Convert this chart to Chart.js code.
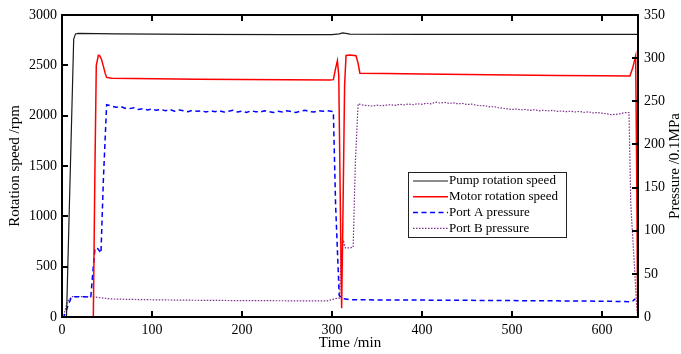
<!DOCTYPE html>
<html><head><meta charset="utf-8">
<script src="https://cdn.jsdelivr.net/npm/chart.js@4/dist/chart.umd.min.js"></script>
<style>html,body{margin:0;padding:0;background:#fff}#wrap{width:681px;height:354px}</style>
</head><body><div id="wrap"><canvas id="c" width="681" height="354"></canvas></div>
<script>
const FONT = '"Liberation Serif", "Times New Roman", serif';

const xTicks = [0, 100, 200, 300, 400, 500, 600];
const speedTicks = [0, 500, 1000, 1500, 2000, 2500, 3000];
const pressureTicks = [0, 50, 100, 150, 200, 250, 300, 350];

const seriesNames = ['Pump rotation speed', 'Motor rotation speed', 'Port A pressure', 'Port B pressure'];

const pumpTime  = [0, 5, 13, 15, 18, 60, 150, 250, 300, 308, 312, 320, 400, 500, 600, 640];
const pumpSpeed = [0, 0, 2760, 2812, 2818, 2812, 2808, 2806, 2805, 2812, 2822, 2810, 2808, 2808, 2808, 2808];

const motorTime  = [0, 34.8, 36.5, 38.1, 40.4, 42, 44, 46, 48, 49.6, 55, 80, 150, 200, 250, 298, 301.5, 304, 306, 307.5, 309, 310.7, 312, 314, 315.6, 320, 326.7, 329, 331, 360, 400, 450, 500, 550, 600, 631, 634, 637.4, 638.5, 639.6];
const motorSpeed = [0, 0, 1400, 2500, 2600, 2595, 2555, 2490, 2420, 2380, 2372, 2368, 2362, 2360, 2357, 2354, 2358, 2470, 2546, 2400, 1300, 86, 900, 2300, 2598, 2602, 2595, 2520, 2422, 2418, 2415, 2410, 2405, 2400, 2396, 2395, 2470, 2593, 1500, 40];

const portATime = [0, 2, 10, 14, 25, 32, 34.5, 36.7, 40, 42, 43.3, 46, 49.6,
  55, 60, 65, 70, 75, 80, 85, 90, 95, 100, 105, 110, 115, 120, 125, 130, 135, 140, 145, 150,
  155, 160, 165, 170, 175, 180, 185, 190, 195, 200, 205, 210, 215, 220, 225, 230, 235, 240,
  245, 250, 255, 260, 265, 270, 275, 280, 285, 290, 295, 301.5,
  304, 308, 311, 320, 350, 400, 450, 500, 550, 600, 630, 634, 637];
const portAPressure = [0, 0, 22, 23.5, 23.5, 23, 55, 80, 79, 76, 74, 160, 246,
  244.5, 243, 244, 242, 241.5, 242.5, 240.5, 241.5, 240, 241, 239.5, 240.5, 239, 240.5, 238.5, 240, 239, 238, 239.5, 238.5,
  239, 237.5, 239, 238, 239, 237.5, 238.5, 239.5, 237.5, 238.5, 237, 239, 238, 237.5, 239, 238, 237, 238.5,
  237.5, 239, 238, 237, 238.5, 239.5, 238, 237.5, 239, 238.5, 239, 238,
  130, 25, 21.5, 20, 19.8, 19.6, 19.3, 19, 18.7, 18.3, 17.8, 18.5, 21];

const portBTime = [0, 1.5, 6, 10.7, 20, 35, 53, 80, 109, 150, 200, 250, 294, 305, 308.5, 310, 313, 315, 320, 323.5, 326, 329,
  335, 340, 345, 350, 355, 360, 365, 370, 375, 380, 385, 390, 395, 400, 405, 410, 415, 420, 425, 430,
  435, 440, 445, 450, 455, 460, 465, 470, 475, 480, 485, 490, 495, 500, 505, 510, 515, 520, 525, 530,
  535, 540, 545, 550, 555, 560, 565, 570, 575, 580, 585, 590, 595, 600, 605, 610, 615, 620, 625,
  630, 632, 636, 638.5, 640];
const portBPressure = [0, 0, 18, 23.5, 23.8, 23.3, 21, 20.3, 19.8, 19.4, 19, 18.8, 18.6, 21.5, 22, 75, 87, 80, 80, 81, 180, 247,
  245.5, 245, 244.5, 245.5, 244.8, 245.5, 246, 245.2, 246.5, 245.8, 246.8, 246, 247.2, 246.5, 247.8, 247, 249, 248, 248.8, 247.5,
  248.2, 247, 247.5, 246.2, 246.8, 245.5, 244.8, 245, 243.5, 243.8, 242.5, 242, 241.2, 240.5, 241, 240, 240.5, 239.5, 240.2, 239,
  239.6, 238.8, 239.5, 238.2, 238.8, 238, 238.5, 237.6, 238.2, 237.2, 237.8, 236.5, 237, 236.2, 235.5, 234.5, 234.8, 235.5, 236.8,
  237, 130, 60, 12, 0];

const pair = (xs, ys) => xs.map((t, i) => ({x: t, y: ys[i]}));

const styles = [
  {color: '#1a1a1a', width: 1.2, dash: []},
  {color: '#ff0000', width: 1.5, dash: []},
  {color: '#0000ff', width: 1.5, dash: [5, 3.5]},
  {color: 'rgb(126,47,142)', width: 1.2, dash: [1.5, 1.5]}
];

const frameTicks = {
  id: 'frameTicks',
  afterDatasetsDraw(chart) {
    const {ctx, chartArea: {left, right, top, bottom}, scales: {x, y, y1}} = chart;
    ctx.save();
    ctx.strokeStyle = '#000';
    ctx.lineWidth = 2;
    ctx.beginPath();
    xTicks.forEach(v => {
      const px = Math.round(x.getPixelForValue(v));
      if (px > left + 2 && px < right - 2) {
        ctx.moveTo(px, bottom); ctx.lineTo(px, bottom - 6);
        ctx.moveTo(px, top); ctx.lineTo(px, top + 6);
      }
    });
    speedTicks.forEach(v => {
      const py = Math.round(y.getPixelForValue(v));
      if (py > top + 2 && py < bottom - 2) { ctx.moveTo(left, py); ctx.lineTo(left + 6, py); }
    });
    pressureTicks.forEach(v => {
      const py = Math.round(y1.getPixelForValue(v));
      if (py > top + 2 && py < bottom - 2) { ctx.moveTo(right, py); ctx.lineTo(right - 6, py); }
    });
    ctx.stroke();
    ctx.strokeRect(left, top, right - left, bottom - top);
    ctx.restore();
  },
  afterDraw(chart) {
    const {ctx, chartArea: {top, bottom}} = chart;
    ctx.save();
    // right axis title (reads bottom to top)
    ctx.fillStyle = '#000';
    ctx.font = '15px ' + FONT;
    ctx.textAlign = 'center';
    ctx.textBaseline = 'middle';
    ctx.translate(675, (top + bottom) / 2);
    ctx.rotate(-Math.PI / 2);
    ctx.fillText(chart.options.scales.y1.title.text, 0, 0);
    ctx.restore();

    // legend
    ctx.save();
    const bx = 408.5, by = 172.5, bw = 158, bh = 65;
    ctx.fillStyle = '#fff';
    ctx.fillRect(bx, by, bw, bh);
    ctx.strokeStyle = '#222';
    ctx.lineWidth = 1;
    ctx.strokeRect(bx, by, bw, bh);
    ctx.font = '13px ' + FONT;
    ctx.textAlign = 'left';
    ctx.textBaseline = 'middle';
    chart.data.datasets.forEach((ds, i) => {
      const ry = by + 8.5 + i * 15.8;
      ctx.strokeStyle = ds.borderColor;
      ctx.lineWidth = ds.borderWidth;
      ctx.setLineDash(ds.borderDash || []);
      ctx.beginPath();
      ctx.moveTo(413, ry); ctx.lineTo(448, ry);
      ctx.stroke();
      ctx.setLineDash([]);
      ctx.fillStyle = '#000';
      ctx.fillText(ds.label, 449, ry);
    });
    ctx.restore();
  }
};

const seriesData = [pair(pumpTime, pumpSpeed), pair(motorTime, motorSpeed), pair(portATime, portAPressure), pair(portBTime, portBPressure)];
const axisIds = ['y', 'y', 'y1', 'y1'];

new Chart(document.getElementById('c'), {
  type: 'line',
  data: {
    datasets: seriesNames.map((n, i) => ({
      label: n,
      data: seriesData[i],
      yAxisID: axisIds[i],
      borderColor: styles[i].color,
      borderWidth: styles[i].width,
      borderDash: styles[i].dash,
      pointRadius: 0,
      tension: 0,
      fill: false
    }))
  },
  options: {
    responsive: false,
    animation: false,
    devicePixelRatio: 1,
    parsing: true,
    layout: {padding: {top: 15, left: 0, right: 0, bottom: 0}},
    plugins: {legend: {display: false}, tooltip: {enabled: false}},
    scales: {
      x: {
        type: 'linear', min: 0, max: 640,
        grid: {display: false, drawTicks: false}, border: {display: false},
        afterBuildTicks: s => { s.ticks = xTicks.map(v => ({value: v})); },
        afterFit: s => { s.height = 37; },
        ticks: {padding: 5, color: '#000', font: {family: FONT, size: 14}, maxRotation: 0, autoSkip: false, callback: v => String(v)},
        title: {display: true, text: 'Time /min', color: '#000', font: {family: FONT, size: 15}, padding: {top: 0, bottom: 2}}
      },
      y: {
        type: 'linear', position: 'left', min: 0, max: 3000,
        grid: {display: false, drawTicks: false}, border: {display: false},
        afterBuildTicks: s => { s.ticks = speedTicks.map(v => ({value: v})); },
        afterFit: s => { s.width = 62; },
        ticks: {padding: 5, color: '#000', font: {family: FONT, size: 14}, autoSkip: false, callback: v => String(v)},
        title: {display: true, text: 'Rotation speed /rpm', color: '#000', font: {family: FONT, size: 15}, padding: {top: 6, bottom: 0}}
      },
      y1: {
        type: 'linear', position: 'right', min: 0, max: 350,
        grid: {display: false, drawTicks: false}, border: {display: false},
        afterBuildTicks: s => { s.ticks = pressureTicks.map(v => ({value: v})); },
        afterFit: s => { s.width = 43; },
        ticks: {padding: 6, color: '#000', font: {family: FONT, size: 14}, autoSkip: false, callback: v => String(v)},
        title: {display: false, text: 'Pressure /0.1MPa'}
      }
    }
  },
  plugins: [frameTicks]
});
</script></body></html>
